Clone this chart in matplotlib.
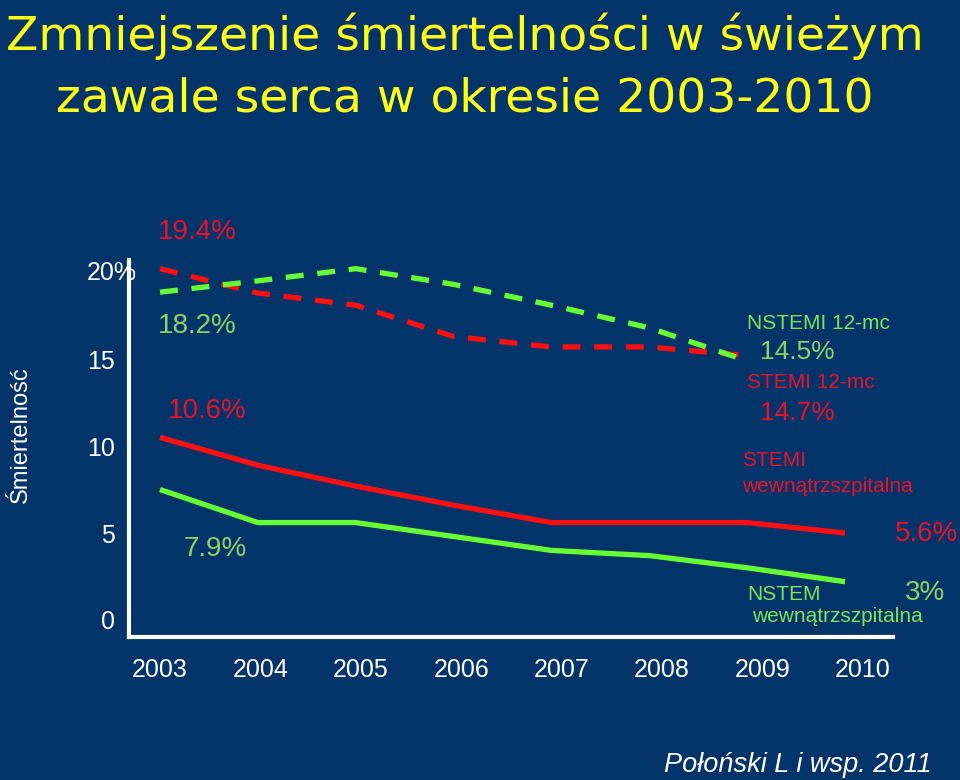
import numpy as np
import matplotlib
matplotlib.use("Agg")
import matplotlib.pyplot as plt

# data
years = ['2003', '2004', '2005', '2006', '2007', '2008', '2009', '2010']
stemi_hosp = [10.5, 8.9, 7.7, 6.6, 5.6, 5.6, 5.6, 5.0]
nstemi_hosp = [7.5, 5.6, 5.6, 4.8, 4.0, 3.7, 3.0, 2.2]
stemi_12m = [20.2, 18.8, 18.1, 16.3, 15.7, 15.7, 15.2]
nstemi_12m = [18.85, 19.5, 20.2, 19.3, 18.1, 16.8, 14.9]
yticks = [0, 5, 10, 15, 20]
ytick_labels = ['0', '5', '10', '15', '20%']

BG = '#02346a'
RED = '#ff1010'
GREEN = '#66ff33'
RED_TXT = '#e8132b'
GREEN_TXT = '#8fd163'
GREEN_TXT2 = '#7fe257'
W, H = 960, 780


def px(x, y):
    return x / W, 1 - y / H


plt.rcParams['font.family'] = ['Liberation Sans', 'DejaVu Sans']

fig = plt.figure(figsize=(9.6, 7.8), dpi=100, facecolor=BG)
ax = fig.add_axes([129 / W, 1 - 637 / H, (893 - 129) / W, (637 - 260) / H])
ax.set_facecolor(BG)

x_all = np.arange(len(years))
x_12m = np.arange(len(stemi_12m))

ax.plot(x_all, stemi_hosp, color=RED, lw=3.8, solid_capstyle='butt')
ax.plot(x_all, nstemi_hosp, color=GREEN, lw=3.8, solid_capstyle='butt')
ax.plot(x_12m, stemi_12m, color=RED, lw=3.8, dashes=(3.4, 2.6))
ax.plot(x_12m, nstemi_12m, color=GREEN, lw=3.8, dashes=(3.4, 2.6))

ax.set_xlim(-0.317, 7.49)
ax.set_ylim(-0.98, 20.7)

for side in ['top', 'right']:
    ax.spines[side].set_visible(False)
for side in ['left', 'bottom']:
    ax.spines[side].set_color('white')
    ax.spines[side].set_linewidth(3)

ax.set_xticks(x_all * 1.026)
ax.set_xticklabels(years)
ax.set_yticks(yticks)
# top label drawn separately so it can overhang the axis like on the slide
ax.set_yticklabels(ytick_labels[:-1] + [''])
ax.tick_params(axis='both', length=0, colors='white', labelsize=18)
ax.tick_params(axis='x', pad=15)
ax.tick_params(axis='y', pad=10)
fig.text(*px(87, 273), ytick_labels[-1], color='white', fontsize=18,
         ha='left', va='center')

# title
fig.text(*px(465, 50), 'Zmniejszenie śmiertelności w świeżym', color='#ffff1a',
         fontsize=34, ha='center', va='baseline', family='DejaVu Sans')
fig.text(*px(465, 112), 'zawale serca w okresie 2003-2010', color='#ffff1a',
         fontsize=34, ha='center', va='baseline', family='DejaVu Sans')

# y label
fig.text(*px(21, 435), 'Śmiertelność', color='white', fontsize=17,
         rotation=90, ha='center', va='center')

# annotations
big = 20
small = 15
fig.text(*px(158, 232), '19.4%', color=RED_TXT, fontsize=big, va='center')
fig.text(*px(158, 326), '18.2%', color=GREEN_TXT, fontsize=big, va='center')
fig.text(*px(168, 411), '10.6%', color=RED_TXT, fontsize=big, va='center')
fig.text(*px(184, 549), '7.9%', color=GREEN_TXT, fontsize=big, va='center')

fig.text(*px(747, 323), 'NSTEMI 12-mc', color=GREEN_TXT2, fontsize=small, va='center')
fig.text(*px(760, 352), '14.5%', color=GREEN_TXT, fontsize=19, va='center')
fig.text(*px(747, 382), 'STEMI 12-mc', color=RED_TXT, fontsize=small, va='center')
fig.text(*px(760, 413), '14.7%', color=RED_TXT, fontsize=19, va='center')
fig.text(*px(742, 460), 'STEMI', color=RED_TXT, fontsize=small, va='center')
fig.text(*px(742, 486), 'wewnątrzszpitalna', color=RED_TXT, fontsize=small, va='center')
fig.text(*px(895, 534), '5.6%', color=RED_TXT, fontsize=big, va='center')
fig.text(*px(905, 593), '3%', color=GREEN_TXT, fontsize=big, va='center')
fig.text(*px(747, 595), 'NSTEM', color=GREEN_TXT2, fontsize=small, va='center')
fig.text(*px(752, 616), 'wewnątrzszpitalna', color=GREEN_TXT2, fontsize=small, va='center')

# source
fig.text(*px(932, 765), 'Połoński L i wsp. 2011', color='white', fontsize=19.5,
         style='italic', ha='right', va='center')

fig.savefig('out.png', dpi=100, facecolor=BG)
